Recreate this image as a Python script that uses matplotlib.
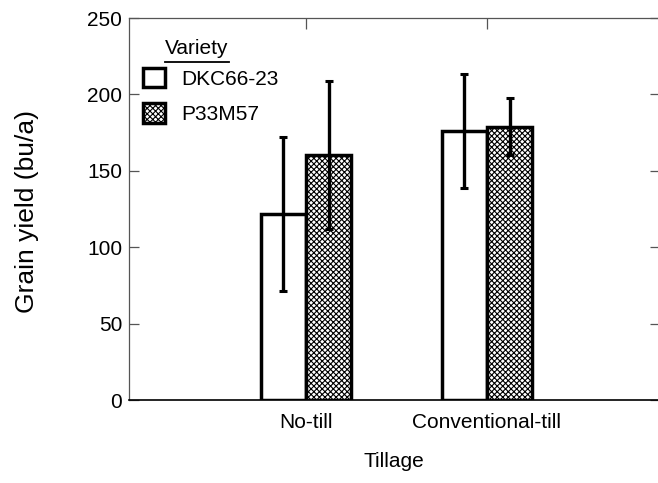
import matplotlib
matplotlib.use("Agg")
import matplotlib.pyplot as plt
from matplotlib.lines import Line2D
import numpy as np

# ---- data ----
tillage = ["No-till", "Conventional-till"]
varieties = ["DKC66-23", "P33M57"]
dkc_mean = [121.7, 176.2]
dkc_err = [50.6, 37.4]
p33_mean = [160.2, 178.9]
p33_err = [48.5, 18.6]
y_ticks = [0, 50, 100, 150, 200, 250]

plt.rcParams['font.family'] = ['Liberation Sans', 'DejaVu Sans']
plt.rcParams['hatch.linewidth'] = 0.8

W, H = 658, 483
fig = plt.figure(figsize=(W / 100, H / 100), dpi=100)
ax = fig.add_axes([129 / W, 83 / H, (660 - 129) / W, (400 - 18) / H])

x = np.arange(len(tillage))
bw = 0.25
b1 = ax.bar(x - bw / 2, dkc_mean, bw, color='white', edgecolor='black',
            linewidth=2.5, label=varieties[0], zorder=2)
b2 = ax.bar(x + bw / 2, p33_mean, bw, color='white', edgecolor='black',
            linewidth=2.5, hatch='xxxxxx', label=varieties[1], zorder=2)
ax.errorbar(x - bw / 2, dkc_mean, yerr=dkc_err, fmt='none', ecolor='black',
            elinewidth=2.4, capsize=2.6, capthick=2.2, zorder=3)
ax.errorbar(x + bw / 2, p33_mean, yerr=p33_err, fmt='none', ecolor='black',
            elinewidth=2.4, capsize=2.6, capthick=2.2, zorder=3)

ax.set_xlim(-0.978, 1.956)
ax.set_ylim(0, 250)
ax.set_yticks(y_ticks)
ax.set_xticks(x)
ax.set_xticklabels(tillage)

for s in ['left', 'top', 'right']:
    ax.spines[s].set_color('#555555')
    ax.spines[s].set_linewidth(0.9)
ax.spines['bottom'].set_color('black')
ax.spines['bottom'].set_linewidth(1.2)

ax.tick_params(axis='y', which='both', direction='in', length=7, width=0.9,
               color='#555555', left=True, right=True, labelsize=15, pad=5)
ax.tick_params(axis='x', which='both', direction='in', length=8, width=0.9,
               color='#555555', top=True, bottom=False, labelsize=15, pad=9)

fig.text(27 / W, 1 - 211.5 / H, "Grain yield (bu/a)", rotation=90,
         ha='center', va='center', fontsize=19)
fig.text(394 / W, 1 - 467 / H, "Tillage", ha='center', va='baseline',
         fontsize=15)

# legend
leg = ax.legend(handles=[b1, b2], loc='upper left',
                bbox_to_anchor=((142.7 - 129) / 531, (400 - 68) / 382),
                frameon=False, fontsize=15, borderpad=0, borderaxespad=0,
                handlelength=1.06, handleheight=1.06, handletextpad=0.8,
                labelspacing=0.7)
title = ax.text((165 - 129) / 531, (400 - 54) / 382, "Variety",
                transform=ax.transAxes, fontsize=15, ha='left', va='baseline')
fig.canvas.draw()
bb = title.get_window_extent(fig.canvas.get_renderer())
inv = ax.transAxes.inverted()
(x0, _), (x1, _) = inv.transform([[bb.x0, bb.y0], [bb.x1, bb.y0]])
uy = (400 - 62) / 382
ax.add_line(Line2D([x0, x1], [uy, uy], transform=ax.transAxes,
                   color='black', linewidth=1.3, clip_on=False))

fig.savefig("out.png", dpi=100)
